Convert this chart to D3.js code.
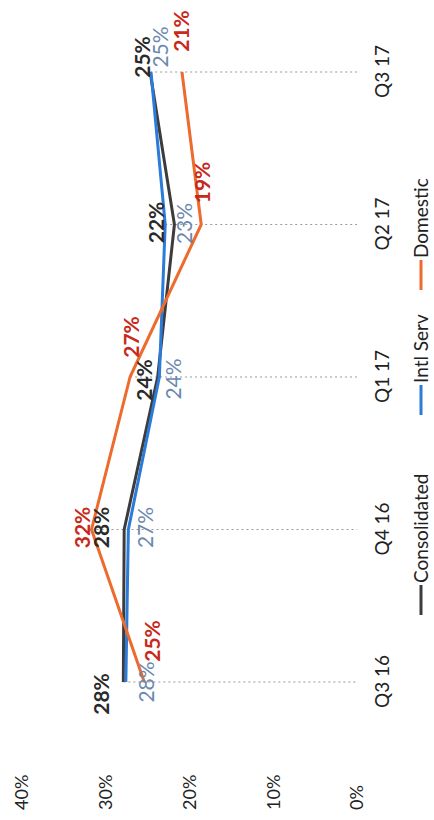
<!DOCTYPE html>
<html><head><meta charset="utf-8">
<script src="https://cdn.jsdelivr.net/npm/d3@7"></script>
<style>
html,body{margin:0;padding:0;background:#fff;}
svg{display:block;font-family:Lato,"Open Sans",sans-serif;}
</style></head>
<body>
<svg id="c" width="434" height="820"></svg>
<script>
const categories = ["Q3 16","Q4 16","Q1 17","Q2 17","Q3 17"];
const consolidated = [27.9, 27.8, 23.8, 21.8, 24.7];
const intlServ = [27.6, 27.3, 23.6, 22.9, 24.6];
const domestic = [25.4, 31.7, 27.1, 18.6, 20.9];
const yTicks = [0, 10, 20, 30, 40];
const seriesNames = ["Consolidated", "Intl Serv", "Domestic"];

// layout / styling (not data)
const series = [
  {name: seriesNames[0], values: consolidated, line: "#3c3c3c", label: "#2a2a2a", weight: 700,
   nudge: [[-12,-22],[2,-23],[-3,-13],[2,-18],[15,-7]]},
  {name: seriesNames[1], values: intlServ, line: "#2b7bd8", label: "#6b88b0", weight: 400,
   nudge: [[0,21],[2,17],[-2,14],[1,19],[25,10]]},
  {name: seriesNames[2], values: domestic, line: "#ec6b2d", label: "#c7291b", weight: 700,
   nudge: [[41,8],[2,-9],[40,2],[42,1],[41,0]]}
];

const W = 820, H = 434;
const svg = d3.select("#c");
const g = svg.append("g").attr("transform", `translate(0,${W}) rotate(-90)`);

const x = d3.scalePoint().domain(categories).range([138, 748]);
const y = d3.scaleLinear().domain([0, 40]).range([357, 22]);

// drop lines
categories.forEach((c, i) => {
  const top = d3.max(series, s => s.values[i]);
  g.append("line")
    .attr("x1", x(c)).attr("x2", x(c))
    .attr("y1", y(top)).attr("y2", y(0))
    .attr("stroke", "#9a9a9a").attr("stroke-width", 1.2)
    .attr("stroke-dasharray", "2,3");
});

// value axis labels
const ya = g.append("g").attr("transform", "translate(10,0)")
  .call(d3.axisLeft(y).tickValues(yTicks).tickSize(0).tickFormat(d => d + "%"));
ya.select(".domain").remove();
ya.selectAll("text").attr("x", 0).attr("text-anchor", "start")
  .attr("font-size", 18).attr("font-family", "Lato").attr("fill", "#222");

// category axis labels
const xa = g.append("g").attr("transform", "translate(0,0)")
  .call(d3.axisBottom(x).tickSize(0));
xa.select(".domain").remove();
xa.selectAll("text").attr("y", 382).attr("dy", "0.35em")
  .attr("font-size", 19).attr("font-family", "Lato").attr("fill", "#222");

// lines
const line = d3.line().x((d, i) => x(categories[i])).y(d => y(d));
series.forEach(s => {
  g.append("path").datum(s.values)
    .attr("d", line).attr("fill", "none")
    .attr("stroke", s.line).attr("stroke-width", 3)
    .attr("stroke-linejoin", "round");
});

// data labels
series.forEach(s => {
  g.selectAll(null).data(s.values).enter().append("text")
    .attr("x", (d, i) => x(categories[i]) + s.nudge[i][0])
    .attr("y", (d, i) => y(d) + s.nudge[i][1])
    .attr("dy", "0.35em")
    .attr("text-anchor", "middle")
    .attr("font-size", 21).attr("font-weight", s.weight)
    .attr("fill", s.label)
    .text(d => Math.round(d) + "%");
});

// legend
const legendStarts = [205, 405, 530];
series.forEach((s, i) => {
  const lg = g.append("g").attr("transform", `translate(${legendStarts[i]},421)`);
  lg.append("line").attr("x1", 0).attr("x2", 30).attr("y1", 0).attr("y2", 0)
    .attr("stroke", s.line).attr("stroke-width", 3);
  lg.append("text").attr("x", 32).attr("dy", "0.35em")
    .attr("font-size", 19).attr("fill", "#222").text(s.name);
});
</script>
</body></html>
